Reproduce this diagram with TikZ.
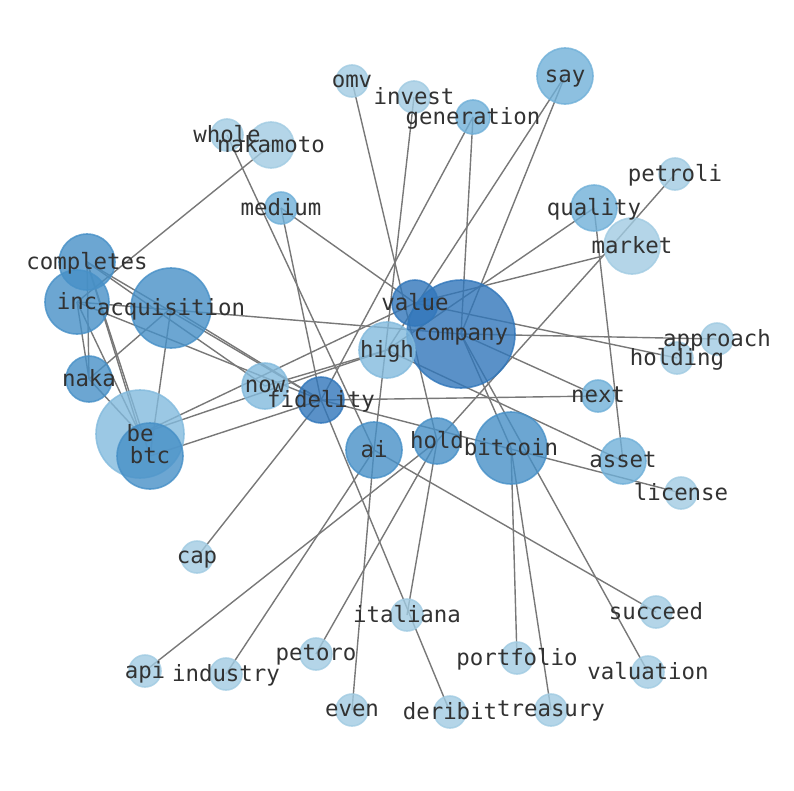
\documentclass[tikz,border=0pt]{standalone}
\usepackage{fontspec}
\setmonofont{DejaVu Sans Mono}
\usetikzlibrary{backgrounds}
\definecolor{ca}{RGB}{161,203,226}
\definecolor{cb}{RGB}{130,186,221}
\definecolor{cc}{RGB}{112,176,216}
\definecolor{cd}{RGB}{71,144,199}
\definecolor{ce}{RGB}{49,118,186}
\definecolor{txt}{RGB}{50,50,50}
\definecolor{edc}{RGB}{120,120,120}
\begin{document}
\begin{tikzpicture}[x=1pt,y=-1pt,
  nd/.style={circle,inner sep=0pt,line width=1.6pt,fill opacity=0.8,draw opacity=0.8},
  n1/.style={nd,fill=ca,draw=ca},
  n2/.style={nd,fill=cb,draw=cb},
  n3/.style={nd,fill=cc,draw=cc},
  n4/.style={nd,fill=cd,draw=cd},
  n5/.style={nd,fill=ce,draw=ce},
  lbl/.style={font=\ttfamily\fontsize{22.4}{22.4}\selectfont,text=txt,inner sep=0pt,yshift=-2pt},
  ed/.style={draw=edc,line width=1.4pt}]
\useasboundingbox (0,0) rectangle (794,790);
% nodes
\node[n1,minimum size=32pt] (omv) at (352,81) {};
\node[n1,minimum size=32pt] (invest) at (414,97) {};
\node[n3,minimum size=34pt] (generation) at (473,117) {};
\node[n3,minimum size=56pt] (say) at (565,76) {};
\node[n1,minimum size=32pt] (whole) at (227,135) {};
\node[n1,minimum size=46pt] (nakamoto) at (271,145) {};
\node[n1,minimum size=32pt] (petroli) at (675,174) {};
\node[n3,minimum size=32pt] (medium) at (281,208) {};
\node[n3,minimum size=46pt] (quality) at (594,208) {};
\node[n1,minimum size=56pt] (market) at (632,246) {};
\node[n4,minimum size=56pt] (completes) at (87,262) {};
\node[n4,minimum size=64pt] (inc) at (77,302) {};
\node[n4,minimum size=80pt] (acquisition) at (171,308) {};
\node[n5,minimum size=46pt] (value) at (415,303) {};
\node[n5,minimum size=108pt] (company) at (461,334) {};
\node[n1,minimum size=32pt] (approach) at (717,339) {};
\node[n1,minimum size=32pt] (holding) at (677,358) {};
\node[n2,minimum size=56pt] (high) at (387,350) {};
\node[n4,minimum size=46pt] (naka) at (89,379) {};
\node[n2,minimum size=46pt] (now) at (265,386) {};
\node[n5,minimum size=46pt] (fidelity) at (321,400) {};
\node[n3,minimum size=32pt] (next) at (598,396) {};
\node[n2,minimum size=88pt] (be) at (140,434) {};
\node[n4,minimum size=66pt] (btc) at (150,456) {};
\node[n4,minimum size=56pt] (ai) at (374,450) {};
\node[n4,minimum size=46pt] (hold) at (437,441) {};
\node[n4,minimum size=72pt] (bitcoin) at (511,448) {};
\node[n3,minimum size=46pt] (asset) at (623,461) {};
\node[n1,minimum size=32pt] (license) at (681,493) {};
\node[n1,minimum size=32pt] (cap) at (197,557) {};
\node[n1,minimum size=32pt] (succeed) at (656,612) {};
\node[n1,minimum size=32pt] (italiana) at (407,615) {};
\node[n1,minimum size=32pt] (petoro) at (316,654) {};
\node[n1,minimum size=32pt] (portfolio) at (517,658) {};
\node[n1,minimum size=32pt] (api) at (145,671) {};
\node[n1,minimum size=32pt] (industry) at (226,674) {};
\node[n1,minimum size=32pt] (valuation) at (648,672) {};
\node[n1,minimum size=32pt] (even) at (352,710) {};
\node[n1,minimum size=32pt] (deribit) at (450,712) {};
\node[n1,minimum size=32pt] (treasury) at (551,710) {};
% edges
\begin{scope}[on background layer]
\foreach \a/\b in {omv/hold,invest/ai,generation/fidelity,generation/company,
  say/high,say/company,whole/ai,nakamoto/inc,medium/fidelity,medium/value,
  quality/asset,quality/high,
  company/approach,value/holding,fidelity/next,company/next,high/asset,
  fidelity/license,ai/succeed,cap/fidelity,api/hold,industry/ai,petoro/hold,
  ai/even,italiana/hold,bitcoin/portfolio,bitcoin/treasury,company/valuation,
  fidelity/deribit,completes/naka,inc/naka,completes/be,completes/btc,inc/be,
  naka/be,acquisition/naka,acquisition/btc,completes/fidelity,acquisition/fidelity,
  completes/now,inc/fidelity,inc/company,be/value,be/high,btc/fidelity,now/high,
  company/bitcoin}
  \draw[ed] (\a.center) -- (\b.center);
\foreach \b in {value,hold,petroli}
  \draw[ed] ([xshift=-29pt,yshift=-10pt]market.center) -- (\b.center);
\end{scope}
% labels
\foreach \n in {omv,invest,generation,say,whole,nakamoto,petroli,medium,quality,
  market,completes,inc,acquisition,value,company,approach,holding,high,naka,now,
  fidelity,next,be,btc,ai,hold,bitcoin,asset,license,cap,succeed,italiana,petoro,
  portfolio,api,industry,valuation,even,deribit,treasury}
  \node[lbl] (\n-l) at (\n) {\strut\n};
\end{tikzpicture}
\end{document}
